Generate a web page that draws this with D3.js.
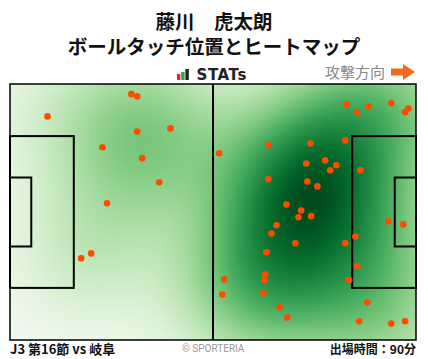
<!DOCTYPE html>
<html>
<head>
<meta charset="utf-8">
<script src="https://cdn.jsdelivr.net/npm/d3@7"></script>
<style>
  body { margin: 0; background: #fff; }
  svg { display: block; }
</style>
</head>
<body>
<svg id="chart"></svg>
<script>
// touch positions in metres (x: 0-105 attacking right, y: 0-68 from top)
const touchX = [31.4, 32.9, 9.7, 32.9, 41.5, 23.9, 34.2, 38.6, 25.1, 21.0, 18.4,
    54.1, 87.0, 89.8, 92.7, 98.6, 103.0, 102.2, 66.8, 77.7, 86.7, 76.6, 81.5, 84.4,
    82.8, 90.6, 66.8, 76.9, 79.5, 71.5, 75.3, 74.6, 77.9, 97.8, 101.7, 68.9, 67.6,
    73.8, 89.3, 86.7, 66.3, 89.8, 66.0, 65.8, 55.4, 65.5, 87.7, 54.9, 92.4, 69.7,
    71.7, 90.3, 98.6, 102.2];
const touchY = [2.7, 3.3, 8.6, 12.6, 11.8, 16.8, 19.7, 26.1, 31.7, 45.0, 46.3,
    18.4, 5.4, 7.5, 5.9, 5.1, 6.5, 7.5, 16.3, 15.8, 15.0, 21.1, 20.3, 21.6,
    22.9, 22.9, 25.3, 25.9, 27.2, 32.0, 33.6, 35.4, 35.1, 36.5, 37.3, 37.5, 39.7,
    42.3, 40.5, 42.3, 44.7, 48.4, 50.6, 52.1, 51.9, 55.6, 52.1, 55.9, 58.0, 59.3,
    62.0, 63.0, 63.6, 63.0];

const titleLines = ["藤川　虎太朗", "ボールタッチ位置とヒートマップ"];
const matchLabel = "J3 第16節 vs 岐阜";
const minutesLabel = "出場時間：90分";

const width = 428, height = 359;
const pitch = { left: 10, top: 84, right: 416, bottom: 340 };
const jp = "'Noto Sans CJK JP', 'Noto Sans', sans-serif";

const svg = d3.select("#chart")
    .attr("width", width)
    .attr("height", height);

const x = d3.scaleLinear().domain([0, 105]).range([pitch.left, pitch.right]);
const y = d3.scaleLinear().domain([0, 68]).range([pitch.top, pitch.bottom]);

// titles
svg.selectAll(".title")
    .data(titleLines)
    .enter().append("text")
    .attr("x", width / 2)
    .attr("y", (d, i) => 28.5 + i * 25.5)
    .attr("text-anchor", "middle")
    .style("font-family", jp)
    .style("font-weight", "bold")
    .style("font-size", "19.5px")
    .style("fill", "#111")
    .text(d => d);

// STATs logo
const logoBars = [{ h: 6, c: "#e8262a" }, { h: 8, c: "#27a845" }, { h: 11, c: "#222" }];
svg.selectAll(".logo-bar")
    .data(logoBars)
    .enter().append("rect")
    .attr("x", (d, i) => 177 + i * 4.2)
    .attr("y", d => 80 - d.h)
    .attr("width", 3.4)
    .attr("height", d => d.h)
    .attr("fill", d => d.c);

svg.append("text")
    .attr("x", 196.5)
    .attr("y", 80)
    .style("font-family", "'DejaVu Sans', sans-serif")
    .style("font-weight", "bold")
    .style("font-size", "15px")
    .style("letter-spacing", "0.6px")
    .style("fill", "#222")
    .text("STATs");

// attack direction
svg.append("text")
    .attr("x", 385)
    .attr("y", 78)
    .attr("text-anchor", "end")
    .style("font-family", jp)
    .style("font-size", "15px")
    .style("fill", "#888")
    .text("攻撃方向");

svg.append("path")
    .attr("d", "M391,68.5 L403,68.5 L403,64 L415,72 L403,80 L403,75.5 L391,75.5 Z")
    .attr("fill", "#f26a1b");

// heatmap (gaussian kde on a canvas)
const cw = pitch.right - pitch.left, ch = pitch.bottom - pitch.top;
const canvas = document.createElement("canvas");
canvas.width = cw;
canvas.height = ch;
const ctx = canvas.getContext("2d");
const bw = 13;
const dens = new Float32Array(cw * ch);
let maxD = 0;
for (let j = 0; j < ch; j++) {
    const my = y.invert(pitch.top + j + 0.5);
    for (let i = 0; i < cw; i++) {
        const mx = x.invert(pitch.left + i + 0.5);
        let s = 0;
        for (let k = 0; k < touchX.length; k++) {
            const dx = mx - touchX[k], dy = my - touchY[k];
            s += Math.exp(-(dx * dx + dy * dy) / (2 * bw * bw));
        }
        dens[j * cw + i] = s;
        if (s > maxD) maxD = s;
    }
}
const color = t => d3.rgb(d3.interpolateGreens(0.01 + 0.97 * Math.pow(t, 0.75)));
const img = ctx.createImageData(cw, ch);
for (let p = 0; p < dens.length; p++) {
    const c = color(dens[p] / maxD);
    img.data[p * 4] = c.r;
    img.data[p * 4 + 1] = c.g;
    img.data[p * 4 + 2] = c.b;
    img.data[p * 4 + 3] = 255;
}
ctx.putImageData(img, 0, 0);

svg.append("image")
    .attr("x", pitch.left)
    .attr("y", pitch.top)
    .attr("width", cw)
    .attr("height", ch)
    .attr("preserveAspectRatio", "none")
    .attr("href", canvas.toDataURL());

// pitch markings
const lines = svg.append("g")
    .attr("fill", "none")
    .attr("stroke", "#000")
    .attr("stroke-width", 2);

lines.append("rect")
    .attr("x", x(0)).attr("y", y(0))
    .attr("width", x(105) - x(0)).attr("height", y(68) - y(0))
    .attr("stroke-width", 1.5);

lines.append("line")
    .attr("x1", x(52.5)).attr("x2", x(52.5))
    .attr("y1", y(0)).attr("y2", y(68));

const boxes = [
    { x0: 0, x1: 16.5, y0: 13.84, y1: 54.16 },
    { x0: 0, x1: 5.5, y0: 24.84, y1: 43.16 },
    { x0: 88.5, x1: 105, y0: 13.84, y1: 54.16 },
    { x0: 99.5, x1: 105, y0: 24.84, y1: 43.16 }
];
lines.selectAll(".box")
    .data(boxes)
    .enter().append("rect")
    .attr("x", d => x(d.x0))
    .attr("y", d => y(d.y0))
    .attr("width", d => x(d.x1) - x(d.x0))
    .attr("height", d => y(d.y1) - y(d.y0));

// touches
svg.selectAll(".touch")
    .data(touchX.map((d, i) => [d, touchY[i]]))
    .enter().append("circle")
    .attr("cx", d => x(d[0]))
    .attr("cy", d => y(d[1]))
    .attr("r", 3.3)
    .attr("fill", "#ff4b00");

// footer
svg.append("text")
    .attr("x", 10)
    .attr("y", 354)
    .style("font-family", jp)
    .style("font-weight", "bold")
    .style("font-size", "13px")
    .style("fill", "#111")
    .text(matchLabel);

svg.append("text")
    .attr("x", 182)
    .attr("y", 352)
    .style("font-family", "'Roboto', sans-serif")
    .style("font-size", "10px")
    .style("fill", "#999")
    .text("© SPORTERIA");

svg.append("text")
    .attr("x", 416)
    .attr("y", 354)
    .attr("text-anchor", "end")
    .style("font-family", jp)
    .style("font-weight", "bold")
    .style("font-size", "12px")
    .style("fill", "#111")
    .text(minutesLabel);
</script>
</body>
</html>
